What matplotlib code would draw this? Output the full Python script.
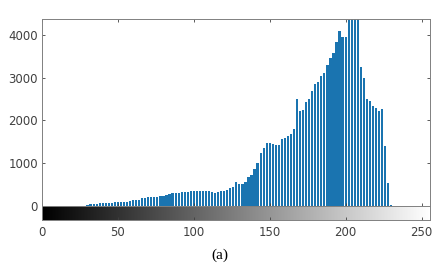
import numpy as np
import matplotlib.pyplot as plt

# gray levels (every other bin) and pixel counts
levels = list(range(30, 232, 2))
counts = [30, 40, 50, 55, 60, 65, 70, 75, 80, 85,
          90, 95, 100, 105, 110, 130, 140, 145, 190, 195,
          200, 205, 210, 215, 240, 245, 250, 290, 300, 305,
          310, 320, 330, 340, 345, 350, 345, 360, 355, 350,
          345, 320, 310, 330, 345, 350, 380, 420, 440, 560,
          520, 510, 560, 680, 720, 860, 1000, 1250, 1350, 1470,
          1480, 1460, 1430, 1420, 1560, 1580, 1640, 1680, 1800, 2500,
          2230, 2250, 2440, 2500, 2700, 2850, 2900, 3050, 3100, 3300,
          3450, 3570, 3840, 4100, 3950, 3950, 4350, 4600, 4700, 4600,
          3250, 3000, 2500, 2450, 2340, 2300, 2230, 2260, 1400, 550,
          30]
x_ticks = [0, 50, 100, 150, 200, 250]
y_ticks = [0, 1000, 2000, 3000, 4000]

plt.rcParams['font.family'] = ['DejaVu Sans']
axis_color = '#404040'

fig = plt.figure(figsize=(4.4, 2.69), dpi=100)
ax = fig.add_axes([0.0955, 0.234, 0.8815, 0.695])
cax = fig.add_axes([0.0955, 0.182, 0.8815, 0.052])

ax.bar(levels, counts, width=1.45, color='#1a74b0', linewidth=0)
ax.set_xlim(0, 255.5)
ax.set_ylim(0, 4370)
ax.set_xticks(x_ticks)
ax.set_xticklabels([])
ax.set_yticks(y_ticks)
ax.tick_params(direction='in', length=2.5, width=0.6, top=True, right=True,
               labelsize=8.5, colors=axis_color, pad=3)
for s in ax.spines.values():
    s.set_color('#808080')
    s.set_linewidth(0.7)

# grayscale strip under the histogram
gradient = np.linspace(0, 1, 256).reshape(1, -1)
cax.imshow(gradient, cmap='gray', aspect='auto', extent=[0, 255.5, 0, 1])
cax.set_xlim(0, 255.5)
cax.set_ylim(0, 1)
cax.set_yticks([])
cax.set_xticks(x_ticks)
cax.tick_params(direction='in', length=2, width=0.6, labelsize=8.5,
                colors=axis_color, pad=4)
for s in cax.spines.values():
    s.set_color('#808080')
    s.set_linewidth(0.7)

fig.text(0.5, 0.025, '(a)', ha='center', va='bottom', fontsize=11,
         family=['Liberation Serif', 'DejaVu Serif'])

fig.savefig('out.png', dpi=100)
